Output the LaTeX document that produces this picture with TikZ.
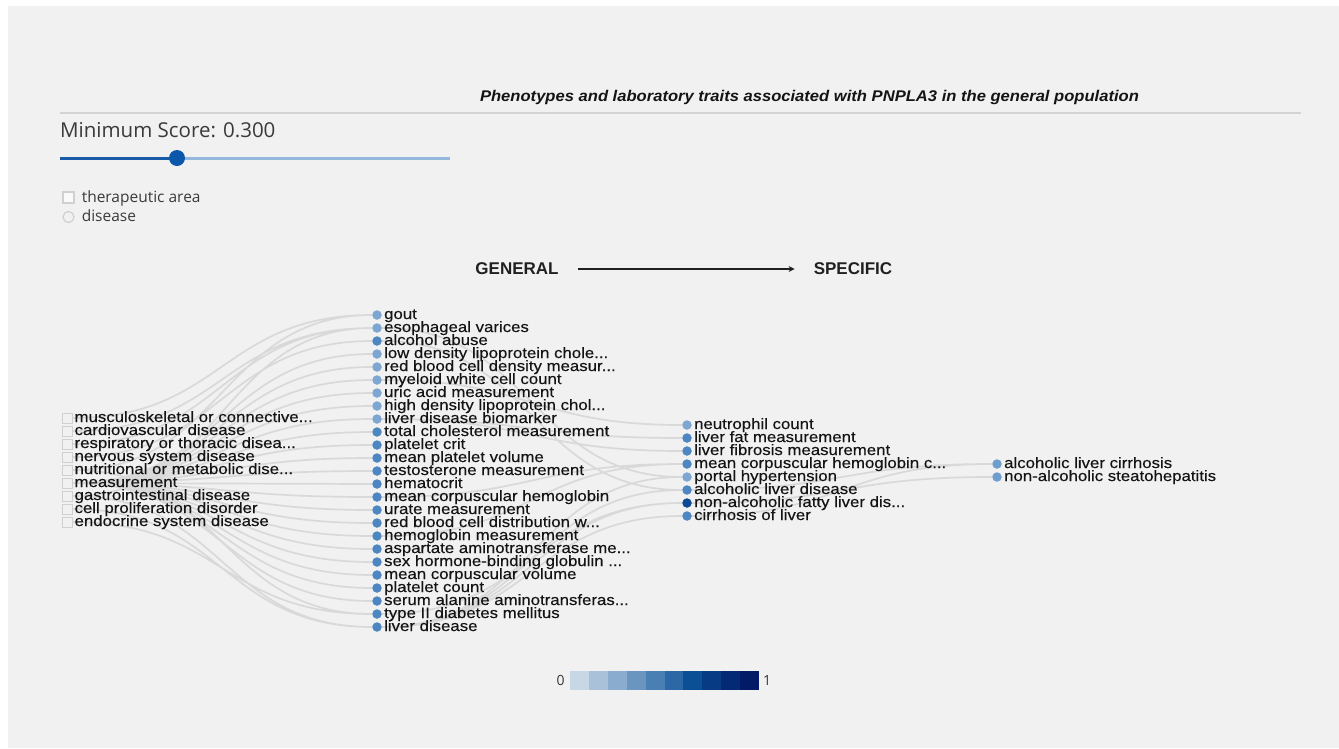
\documentclass[tikz,border=0pt]{standalone}
\usepackage{fontspec}
\setmainfont{Liberation Sans}
\newfontfamily\graphfont[FakeStretch=1.12,FakeBold=0.3]{Liberation Sans}
\newfontfamily\titlefont[FakeStretch=1.07]{Liberation Sans}
\newfontfamily\uifont{Open Sans}
\usetikzlibrary{arrows.meta,positioning}

\definecolor{panelgray}{HTML}{F1F1F1}
\definecolor{rulegray}{HTML}{D3D3D3}
\definecolor{linkgray}{HTML}{D9D9D9}
\definecolor{areaedge}{HTML}{D0D0D0}
\definecolor{lightdot}{HTML}{7DA6D0}
\definecolor{middot}{HTML}{4D86C0}
\definecolor{deepdot}{HTML}{0C4A92}
\definecolor{leafdot}{HTML}{6E9ECD}
\definecolor{textblack}{HTML}{141414}
\definecolor{uigray}{HTML}{3A3A3A}
\definecolor{trackon}{HTML}{1A5BA8}
\definecolor{trackoff}{HTML}{94B7DE}
\definecolor{knobblue}{HTML}{0B57AA}
\definecolor{scale1}{HTML}{C8D7E6}
\definecolor{scale2}{HTML}{A9C2DA}
\definecolor{scale3}{HTML}{8AACCE}
\definecolor{scale4}{HTML}{6A95C1}
\definecolor{scale5}{HTML}{4A7FB4}
\definecolor{scale6}{HTML}{2C68A5}
\definecolor{scale7}{HTML}{0B4F95}
\definecolor{scale8}{HTML}{073C85}
\definecolor{scale9}{HTML}{052A75}
\definecolor{scale10}{HTML}{031A66}

\pgfdeclarelayer{panel}
\pgfdeclarelayer{links}
\pgfsetlayers{panel,links,main}

\begin{document}
\begin{tikzpicture}[
  x=1pt, y=-1pt, label distance=1pt,
  charttitle/.style={font=\titlefont\bfseries\itshape\fontsize{15.5}{15.5}\selectfont, text=textblack, inner sep=0pt},
  scoretext/.style={font=\uifont\fontsize{20.5}{20.5}\selectfont, text=uigray, inner sep=0pt},
  uitext/.style={font=\uifont\fontsize{15.5}{15.5}\selectfont, text=uigray, inner sep=0pt, text height=11pt, text depth=2pt},
  headword/.style={font=\bfseries\fontsize{17}{17}\selectfont, text=textblack!95, inner sep=0pt},
  scaletext/.style={font=\uifont\fontsize{14}{14}\selectfont, text=uigray, inner sep=0pt},
  checkbox/.style={draw=areaedge, fill=panelgray!80!black!8, line width=1.2pt, minimum size=11pt, inner sep=0pt},
  radio/.style={circle, draw=areaedge, line width=1.2pt, minimum size=11pt, inner sep=0pt},
  knob/.style={circle, fill=knobblue, minimum size=16pt, inner sep=0pt},
  area/.style={draw=areaedge, fill=panelgray, line width=0.8pt, minimum size=10pt, inner sep=0pt},
  trait/.style={circle, fill=#1, minimum size=9.5pt, inner sep=0pt},
  trait/.default=middot,
  namelabel/.style={font=\graphfont\fontsize{15}{15}\selectfont, text=textblack, inner sep=1pt, text height=10pt, text depth=2pt},
  link/.style={draw=linkgray, line width=1.7pt, to path={.. controls +(155,0) and +(-155,0) .. (\tikztotarget)}},
  rule/.style={draw=rulegray, line width=1.2pt},
  dirarrow/.style={-{Stealth[length=6pt,width=6pt]}, draw=textblack!95, line width=1.8pt}
]
  \useasboundingbox (0,0) rectangle (1339,748);
  \begin{pgfonlayer}{panel}
    \fill[white] (0,0) rectangle (1339,748);
    \fill[panelgray] (8,6) rectangle (1339,748);
  \end{pgfonlayer}

  % header
  \node[charttitle] (title) at (809.5,97) {Phenotypes and laboratory traits associated with PNPLA3 in the general population};
  \coordinate (rulestart) at (60,113);
  \coordinate (ruleend) at (1301,113);
  \draw[rule] (rulestart) -- (ruleend);

  % score slider and legend
  \node[scoretext, anchor=base west] (score) at (60,137) {Minimum Score: 0.300};
  \coordinate (trackstart) at (60,158);
  \coordinate (trackend) at (450,158);
  \node[knob] (knob) at (177,158) {};
  \begin{pgfonlayer}{links}
    \draw[trackon, line width=3pt] (trackstart) -- (knob.center);
    \draw[trackoff, line width=3pt] (knob.center) -- (trackend);
  \end{pgfonlayer}
  \node[checkbox] (tabox) at (68.5,197.5) {};
  \node[uitext, right=7pt of tabox] (talabel) {therapeutic area};
  \node[radio] (disradio) at (68.5,217) {};
  \node[uitext, right=7pt of disradio] (dislabel) {disease};

  \node[headword] (general) at (517,269) {GENERAL};
  \node[headword] (specific) at (853,269) {SPECIFIC};
  \draw[dirarrow, shorten <=19pt, shorten >=19pt] (general) -- (specific);

  % therapeutic areas
  \node[area, label={[namelabel]right:musculoskeletal or connective...}] (a1) at (67,418) {};
  \node[area, label={[namelabel]right:cardiovascular disease}] (a2) at (67,431) {};
  \node[area, label={[namelabel]right:respiratory or thoracic disea...}] (a3) at (67,444) {};
  \node[area, label={[namelabel]right:nervous system disease}] (a4) at (67,457) {};
  \node[area, label={[namelabel]right:nutritional or metabolic dise...}] (a5) at (67,470) {};
  \node[area, label={[namelabel]right:measurement}] (a6) at (67,483) {};
  \node[area, label={[namelabel]right:gastrointestinal disease}] (a7) at (67,496) {};
  \node[area, label={[namelabel]right:cell proliferation disorder}] (a8) at (67,509) {};
  \node[area, label={[namelabel]right:endocrine system disease}] (a9) at (67,522) {};

  % traits
  \node[trait=lightdot, label={[namelabel]right:gout}] (t1) at (377,315) {};
  \node[trait=lightdot, label={[namelabel]right:esophageal varices}] (t2) at (377,328) {};
  \node[trait, label={[namelabel]right:alcohol abuse}] (t3) at (377,341) {};
  \node[trait=lightdot, label={[namelabel]right:low density lipoprotein chole...}] (t4) at (377,354) {};
  \node[trait=lightdot, label={[namelabel]right:red blood cell density measur...}] (t5) at (377,367) {};
  \node[trait=lightdot, label={[namelabel]right:myeloid white cell count}] (t6) at (377,380) {};
  \node[trait=lightdot, label={[namelabel]right:uric acid measurement}] (t7) at (377,393) {};
  \node[trait=lightdot, label={[namelabel]right:high density lipoprotein chol...}] (t8) at (377,406) {};
  \node[trait=lightdot, label={[namelabel]right:liver disease biomarker}] (t9) at (377,419) {};
  \node[trait, label={[namelabel]right:total cholesterol measurement}] (t10) at (377,432) {};
  \node[trait, label={[namelabel]right:platelet crit}] (t11) at (377,445) {};
  \node[trait, label={[namelabel]right:mean platelet volume}] (t12) at (377,458) {};
  \node[trait, label={[namelabel]right:testosterone measurement}] (t13) at (377,471) {};
  \node[trait, label={[namelabel]right:hematocrit}] (t14) at (377,484) {};
  \node[trait, label={[namelabel]right:mean corpuscular hemoglobin}] (t15) at (377,497) {};
  \node[trait, label={[namelabel]right:urate measurement}] (t16) at (377,510) {};
  \node[trait, label={[namelabel]right:red blood cell distribution w...}] (t17) at (377,523) {};
  \node[trait, label={[namelabel]right:hemoglobin measurement}] (t18) at (377,536) {};
  \node[trait, label={[namelabel]right:aspartate aminotransferase me...}] (t19) at (377,549) {};
  \node[trait, label={[namelabel]right:sex hormone-binding globulin ...}] (t20) at (377,562) {};
  \node[trait, label={[namelabel]right:mean corpuscular volume}] (t21) at (377,575) {};
  \node[trait, label={[namelabel]right:platelet count}] (t22) at (377,588) {};
  \node[trait, label={[namelabel]right:serum alanine aminotransferas...}] (t23) at (377,601) {};
  \node[trait, label={[namelabel]right:type II diabetes mellitus}] (t24) at (377,614) {};
  \node[trait, label={[namelabel]right:liver disease}] (t25) at (377,627) {};

  % more specific traits
  \node[trait=lightdot, label={[namelabel]right:neutrophil count}] (s1) at (687,425) {};
  \node[trait, label={[namelabel]right:liver fat measurement}] (s2) at (687,438) {};
  \node[trait, label={[namelabel]right:liver fibrosis measurement}] (s3) at (687,451) {};
  \node[trait, label={[namelabel]right:mean corpuscular hemoglobin c...}] (s4) at (687,464) {};
  \node[trait=lightdot, label={[namelabel]right:portal hypertension}] (s5) at (687,477) {};
  \node[trait, label={[namelabel]right:alcoholic liver disease}] (s6) at (687,490) {};
  \node[trait=deepdot, label={[namelabel]right:non-alcoholic fatty liver dis...}] (s7) at (687,503) {};
  \node[trait, label={[namelabel]right:cirrhosis of liver}] (s8) at (687,516) {};

  \node[trait=leafdot, label={[namelabel]right:alcoholic liver cirrhosis}] (f1) at (997,464) {};
  \node[trait=leafdot, label={[namelabel]right:non-alcoholic steatohepatitis}] (f2) at (997,477) {};

  % links
  \begin{pgfonlayer}{links}
    \draw[link] (a1) to (t1) (a5) to (t1) (a2) to (t2) (a3) to (t2) (a7) to (t2) (a4) to (t3);
    \draw[link] (a6) to (t4) (a6) to (t5) (a6) to (t6) (a6) to (t7) (a6) to (t8)
      (a6) to (t9) (a6) to (t10) (a6) to (t11) (a6) to (t12) (a6) to (t13)
      (a6) to (t14) (a6) to (t15) (a6) to (t16) (a6) to (t17) (a6) to (t18)
      (a6) to (t19) (a6) to (t20) (a6) to (t21) (a6) to (t22) (a6) to (t23);
    \draw[link] (a5) to (t24) (a9) to (t24) (a7) to (t25) (a8) to (t25);
    \draw[link] (t6) to (s1) (t9) to (s2) (t9) to (s3) (t15) to (s4) (t18) to (s4)
      (t2) to (s5) (t25) to (s5) (t3) to (s6) (t25) to (s6) (t24) to (s7) (t25) to (s7) (t25) to (s8);
    \draw[link] (s6) to (f1) (s8) to (f1) (s7) to (f2);
  \end{pgfonlayer}

  % colour scale
  \node[scaletext] (scalemin) at (560.5,680) {0};
  \fill[scale1] (570,670.5) rectangle ++(18.9,19.5);
  \fill[scale2] (588.9,670.5) rectangle ++(18.9,19.5);
  \fill[scale3] (607.8,670.5) rectangle ++(18.9,19.5);
  \fill[scale4] (626.7,670.5) rectangle ++(18.9,19.5);
  \fill[scale5] (645.6,670.5) rectangle ++(18.9,19.5);
  \fill[scale6] (664.5,670.5) rectangle ++(18.9,19.5);
  \fill[scale7] (683.4,670.5) rectangle ++(18.9,19.5);
  \fill[scale8] (702.3,670.5) rectangle ++(18.9,19.5);
  \fill[scale9] (721.2,670.5) rectangle ++(18.9,19.5);
  \fill[scale10] (740.1,670.5) rectangle ++(18.9,19.5);
  \node[scaletext] (scalemax) at (767,680) {1};
\end{tikzpicture}
\end{document}
